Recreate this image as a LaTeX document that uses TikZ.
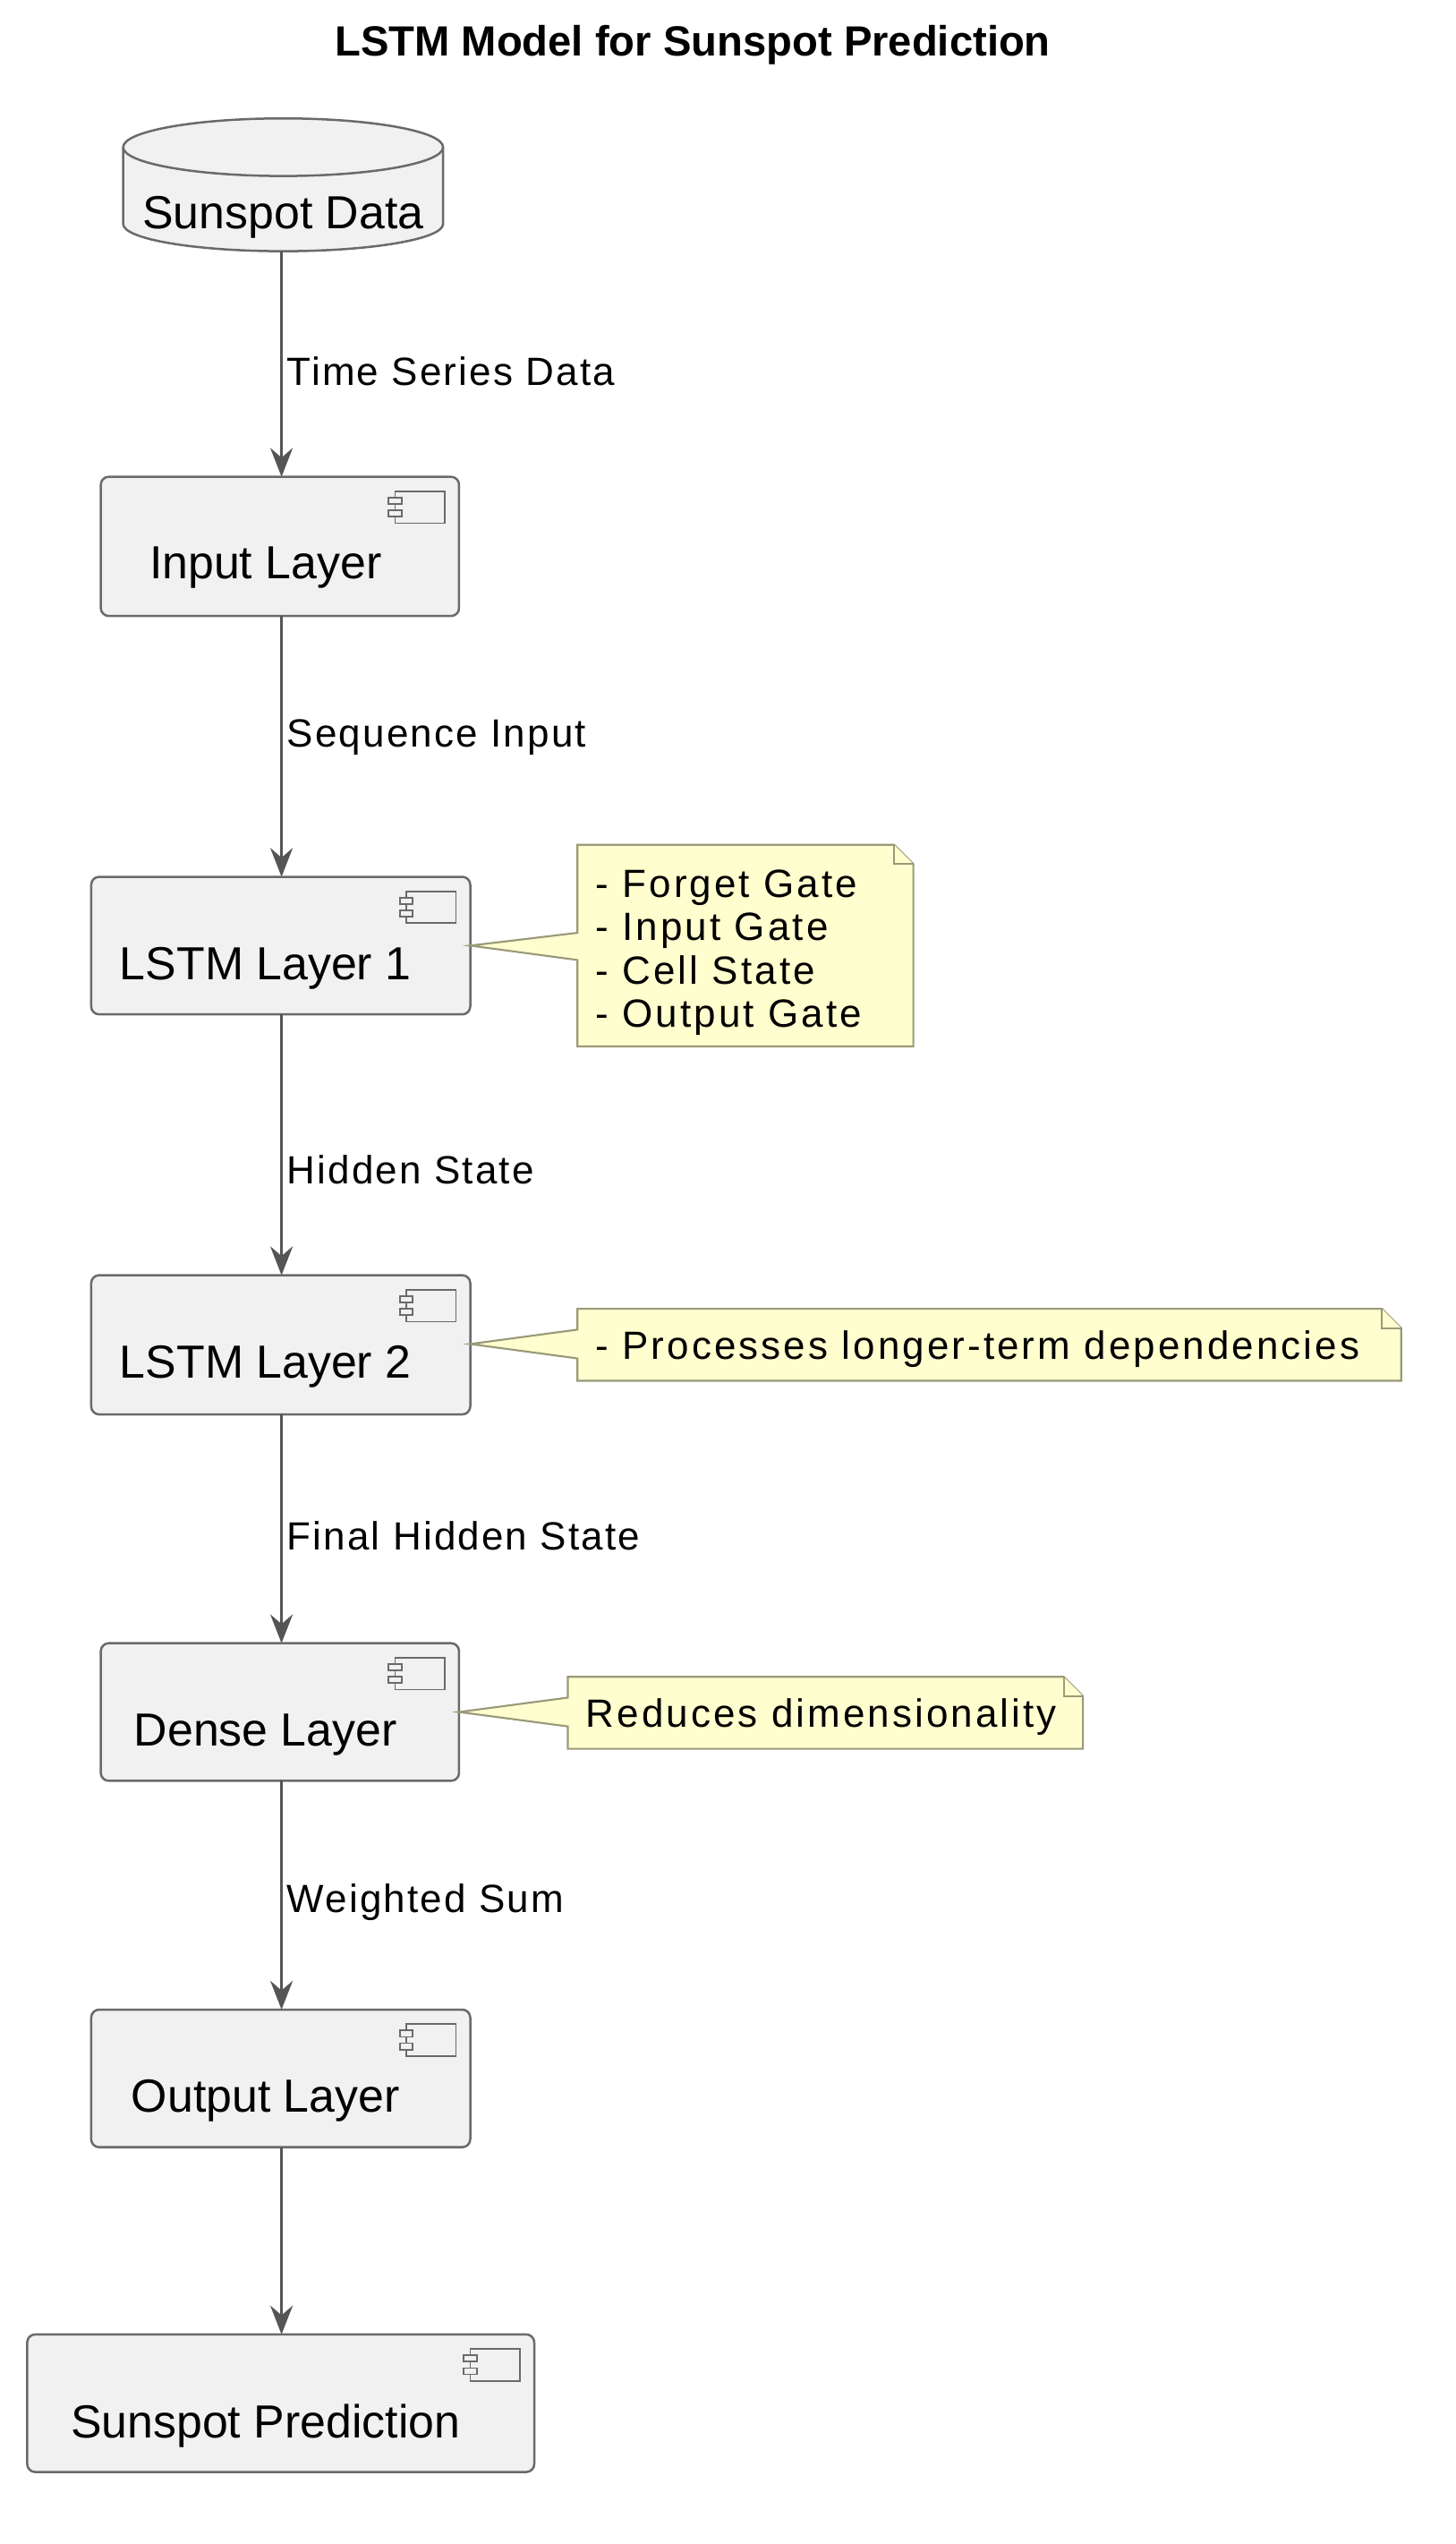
\documentclass[tikz,border=0pt]{standalone}
\usepackage{fontspec}
\setmainfont{Liberation Sans}
\newfontfamily\spacedfont{Liberation Sans}[LetterSpace=5]
\newfontfamily\notefont{Liberation Sans}[LetterSpace=7]
\usetikzlibrary{arrows.meta}
\definecolor{boxfill}{HTML}{F1F1F1}
\definecolor{boxline}{HTML}{6A6A6A}
\definecolor{notefill}{HTML}{FEFECE}
\definecolor{noteline}{HTML}{9A9A7A}
\definecolor{arr}{HTML}{555555}
\begin{document}
\begin{tikzpicture}[x=0.5pt,y=-0.5pt,
  comp/.style={draw=boxline,fill=boxfill,rounded corners=2.5pt,line width=0.7pt},
  ctext/.style={font=\fontsize{14.5}{17}\selectfont,inner sep=0pt},
  lbl/.style={font=\spacedfont\fontsize{12.3}{14}\selectfont,anchor=west,inner sep=0pt},
  ntext/.style={font=\notefont\fontsize{12.3}{13.6}\selectfont,align=left,anchor=north west,inner sep=0pt},
  note/.style={draw=noteline,fill=notefill,line width=0.6pt},
  flow/.style={draw=arr,line width=0.9pt,-{Stealth[length=9pt,width=7pt,inset=3pt]}},
  icon/.style={draw=boxline,fill=boxfill,line width=0.5pt}]
\useasboundingbox (0,0) rectangle (910,1590);
\node[font=\bfseries\fontsize{13.2}{15}\selectfont] (title) at (433,28) {LSTM Model for Sunspot Prediction};

% cylinder
\path[draw=boxline,fill=boxfill,line width=0.7pt] (77,92) -- (77,140) arc[start angle=180,end angle=0,x radius=100,y radius=17] -- (277,92) arc[start angle=0,end angle=-180,x radius=100,y radius=18] -- cycle;
\path[draw=boxline,line width=0.7pt] (77,92) arc[start angle=180,end angle=0,x radius=100,y radius=18];
\node[ctext] (data) at (177,136) {Sunspot Data};
\coordinate (dataB) at (176,157);

% component boxes
\newcommand{\compbox}[6]{% name, x1,y1,x2,y2, text
  \draw[comp] (#2,#3) rectangle (#4,#5);
  \coordinate (#1T) at (176,#3);
  \coordinate (#1B) at (176,#5);
  \node[ctext] (#1) at (166,{#3+57}) {#6};
  \draw[icon] (#4-40,#3+9) rectangle (#4-9,#3+29);
  \draw[icon] (#4-44,#3+13) rectangle (#4-36,#3+17);
  \draw[icon] (#4-44,#3+21) rectangle (#4-36,#3+25);
}
\compbox{inp}{63}{298}{287}{385}{Input Layer}
\compbox{lone}{57}{548}{294}{634}{LSTM Layer 1}
\compbox{ltwo}{57}{797}{294}{884}{LSTM Layer 2}
\compbox{dense}{63}{1027}{287}{1113}{Dense Layer}
\compbox{outl}{57}{1256}{294}{1342}{Output Layer}
\compbox{pred}{17}{1459}{334}{1545}{Sunspot Prediction}

% notes
\path[note] (361,528) -- (559,528) -- (571,540) -- (571,654) -- (361,654) -- (361,600) -- (294,591) -- (361,583) -- cycle;
\draw[note] (559,528) -- (559,540) -- (571,540);
\node[ntext] (n1) at (372,543) {- Forget Gate\\- Input Gate\\- Cell State\\- Output Gate};

\path[note] (361,818) -- (864,818) -- (876,830) -- (876,863) -- (361,863) -- (361,849) -- (294,840) -- (361,831) -- cycle;
\draw[note] (864,818) -- (864,830) -- (876,830);
\node[ntext,anchor=west] (n2) at (372,843) {- Processes longer-term dependencies};

\path[note] (355,1048) -- (665,1048) -- (677,1060) -- (677,1093) -- (355,1093) -- (355,1079) -- (287,1070) -- (355,1061) -- cycle;
\draw[note] (665,1048) -- (665,1060) -- (677,1060);
\node[ntext,anchor=west] (n3) at (366,1073) {Reduces dimensionality};

% arrows
\draw[flow] (dataB) -- (inpT);
\draw[flow] (inpB) -- (loneT);
\draw[flow] (loneB) -- (ltwoT);
\draw[flow] (ltwoB) -- (denseT);
\draw[flow] (denseB) -- (outlT);
\draw[flow] (outlB) -- (predT);
\node[lbl] (l1) at (179,232) {Time Series Data};
\node[lbl] (l2) at (179,461) {Sequence Input};
\node[lbl] (l3) at (179,731) {Hidden State};
\node[lbl] (l4) at (179,960) {Final Hidden State};
\node[lbl] (l5) at (179,1189) {Weighted Sum};
\end{tikzpicture}
\end{document}
